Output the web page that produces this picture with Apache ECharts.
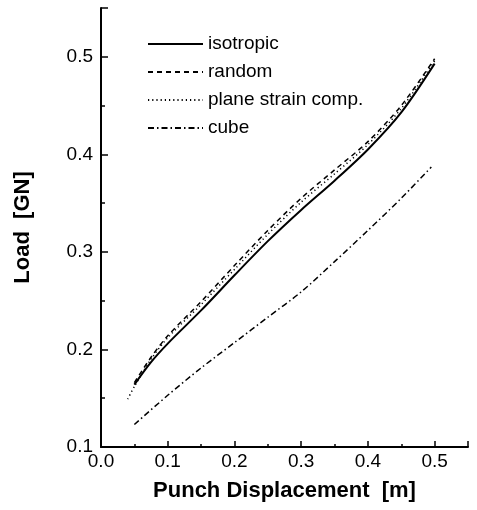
<!DOCTYPE html>
<html>
<head>
<meta charset="utf-8">
<script src="https://cdn.jsdelivr.net/npm/echarts@6/dist/echarts.min.js"></script>
<style>
  html, body { margin: 0; padding: 0; background: #fff; }
  #chart { width: 477px; height: 510px; }
</style>
</head>
<body>
<div id="chart"></div>
<script>
// values (x = punch displacement [m], y = load [GN])
const isoX = [0.05, 0.075, 0.1, 0.15, 0.2, 0.25, 0.3, 0.35, 0.4, 0.45, 0.5]
const isoY = [0.164, 0.187, 0.206, 0.240, 0.276, 0.311, 0.343, 0.373, 0.405, 0.443, 0.493]

const randX = [0.05, 0.075, 0.1, 0.15, 0.2, 0.25, 0.3, 0.35, 0.4, 0.45, 0.5]
const randY = [0.166, 0.192, 0.214, 0.249, 0.286, 0.322, 0.355, 0.384, 0.413, 0.450, 0.498]

const planeX = [0.04, 0.05, 0.075, 0.1, 0.15, 0.2, 0.25, 0.3, 0.35, 0.4, 0.45, 0.5]
const planeY = [0.149, 0.162, 0.190, 0.212, 0.246, 0.282, 0.318, 0.351, 0.380, 0.410, 0.447, 0.496]

const cubeX = [0.05, 0.1, 0.15, 0.2, 0.25, 0.3, 0.35, 0.4, 0.45, 0.495]
const cubeY = [0.123, 0.153, 0.181, 0.207, 0.233, 0.259, 0.290, 0.322, 0.355, 0.387]

const names = ['isotropic', 'random', 'plane strain comp.', 'cube']

const font = 'Liberation Sans'
const pairs = (xs, ys) => xs.map((x, i) => [x, ys[i]])

function lineSeries(name, xs, ys, type, width) {
  return {
    name: name,
    type: 'line',
    data: pairs(xs, ys),
    smooth: 0.3,
    symbol: 'none',
    lineStyle: { color: '#000', width: width, type: type },
    itemStyle: { color: '#000' },
    animation: false
  }
}

const chart = echarts.init(document.getElementById('chart'))

chart.setOption({
  backgroundColor: '#fff',
  textStyle: { fontFamily: font, color: '#000' },
  grid: { left: 101, right: 9, top: 8, bottom: 63 },
  legend: {
    data: names,
    orient: 'vertical',
    left: 142,
    top: 29,
    itemWidth: 55,
    itemHeight: 14,
    itemGap: 8,
    itemStyle: { opacity: 0 },
    textStyle: { fontFamily: font, fontSize: 19, color: '#000', lineHeight: 20 }
  },
  xAxis: {
    type: 'value',
    min: 0,
    max: 0.55,
    interval: 0.1,
    name: 'Punch Displacement  [m]',
    nameLocation: 'middle',
    nameGap: 33,
    nameTextStyle: { fontFamily: font, fontSize: 22, fontWeight: 'bold', color: '#000' },
    axisLine: { lineStyle: { color: '#000', width: 2 } },
    axisTick: { inside: true, length: 6, lineStyle: { color: '#000', width: 1.5 } },
    minorTick: { show: true, splitNumber: 2, length: 3, lineStyle: { color: '#000', width: 1.5 } },
    axisLabel: {
      fontFamily: font, fontSize: 19, color: '#000', margin: 5,
      formatter: v => v.toFixed(1),
      showMaxLabel: false
    },
    splitLine: { show: false }
  },
  yAxis: {
    type: 'value',
    min: 0.1,
    max: 0.55,
    interval: 0.1,
    name: 'Load  [GN]',
    nameLocation: 'middle',
    nameGap: 67,
    nameTextStyle: { fontFamily: font, fontSize: 22, fontWeight: 'bold', color: '#000' },
    axisLine: { show: true, lineStyle: { color: '#000', width: 2 } },
    axisTick: { show: true, inside: true, length: 7, lineStyle: { color: '#000', width: 1.5 } },
    minorTick: { show: true, splitNumber: 2, length: 4, lineStyle: { color: '#000', width: 1.5 } },
    axisLabel: {
      fontFamily: font, fontSize: 19, color: '#000', margin: 8,
      formatter: v => v.toFixed(1),
      showMaxLabel: false
    },
    splitLine: { show: false }
  },
  series: [
    lineSeries(names[0], isoX, isoY, 'solid', 2),
    lineSeries(names[1], randX, randY, [5, 4], 1.5),
    lineSeries(names[2], planeX, planeY, [1.2, 3], 1.5),
    lineSeries(names[3], cubeX, cubeY, [6, 3, 1.5, 3], 1.5)
  ]
})
</script>
</body>
</html>
